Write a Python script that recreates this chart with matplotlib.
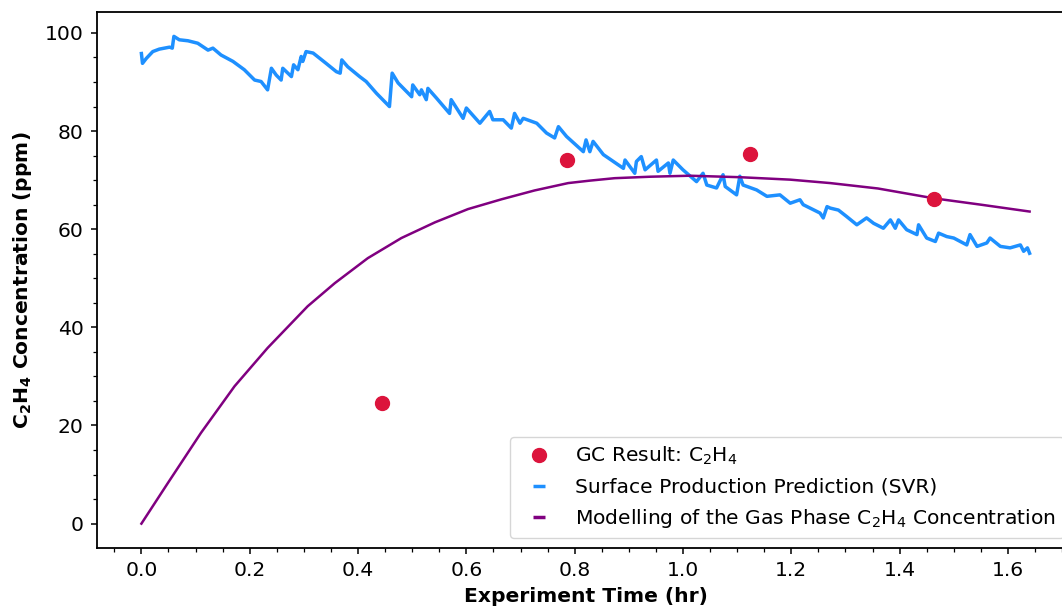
import numpy as np
import matplotlib
matplotlib.use("Agg")
import matplotlib.pyplot as plt
from matplotlib.lines import Line2D

# GC measurements
gc_time = [0.444, 0.786, 1.124, 1.464]
gc_conc = [24.6, 74.1, 75.4, 66.2]

# SVR surface production prediction
svr_time = [0.0, 0.002, 0.009, 0.021, 0.033, 0.052, 0.057, 0.060, 0.070, 0.086,
            0.104, 0.123, 0.132, 0.147, 0.169, 0.190, 0.209, 0.221, 0.233, 0.240,
            0.249, 0.258, 0.261, 0.277, 0.281, 0.289, 0.295, 0.298, 0.304, 0.317,
            0.341, 0.360, 0.367, 0.370, 0.381, 0.403, 0.415, 0.434, 0.458, 0.463,
            0.474, 0.499, 0.501, 0.514, 0.517, 0.526, 0.529, 0.545, 0.569, 0.572,
            0.594, 0.600, 0.625, 0.643, 0.649, 0.668, 0.683, 0.689, 0.699, 0.705,
            0.730, 0.748, 0.763, 0.770, 0.785, 0.816, 0.821, 0.828, 0.834, 0.853,
            0.890, 0.893, 0.911, 0.914, 0.923, 0.930, 0.951, 0.954, 0.973, 0.976,
            0.982, 1.000, 1.025, 1.037, 1.044, 1.062, 1.074, 1.078, 1.099, 1.105,
            1.111, 1.136, 1.155, 1.179, 1.198, 1.216, 1.222, 1.253, 1.259, 1.266,
            1.272, 1.287, 1.302, 1.321, 1.339, 1.352, 1.370, 1.383, 1.392, 1.398,
            1.413, 1.432, 1.435, 1.450, 1.466, 1.472, 1.487, 1.500, 1.524, 1.530,
            1.543, 1.561, 1.567, 1.586, 1.604, 1.623, 1.629, 1.636, 1.640]
svr_conc = [95.8, 93.8, 94.8, 96.2, 96.7, 97.1, 96.9, 99.3, 98.6, 98.4,
            97.9, 96.5, 96.9, 95.5, 94.2, 92.5, 90.4, 90.1, 88.4, 92.8,
            91.4, 90.4, 92.8, 91.1, 93.5, 92.5, 95.2, 94.2, 96.2, 95.9,
            93.8, 92.1, 91.8, 94.5, 93.1, 91.1, 90.1, 87.7, 85.0, 91.8,
            89.8, 87.0, 89.4, 87.4, 88.4, 86.4, 88.7, 86.7, 83.6, 86.4,
            82.6, 84.7, 81.6, 84.0, 82.3, 82.3, 80.6, 83.6, 81.6, 82.6,
            81.6, 79.6, 78.6, 80.9, 78.9, 75.8, 78.2, 75.8, 77.9, 75.2,
            72.4, 74.1, 71.4, 73.8, 74.8, 72.1, 74.1, 71.8, 73.5, 71.4,
            74.1, 72.1, 69.7, 71.4, 69.0, 68.4, 71.1, 68.7, 67.0, 70.8,
            69.0, 68.0, 66.7, 67.0, 65.3, 66.0, 65.0, 63.3, 62.3, 64.6,
            64.3, 63.9, 62.6, 60.9, 62.3, 61.2, 60.2, 61.9, 60.2, 61.9,
            59.9, 58.9, 60.9, 58.2, 57.5, 59.2, 58.5, 58.2, 56.8, 58.9,
            56.5, 57.2, 58.2, 56.5, 56.2, 56.8, 55.5, 56.2, 55.1]

# gas phase model
model_time = [0.0, 0.049, 0.110, 0.172, 0.233, 0.307, 0.357, 0.418, 0.480, 0.542,
              0.603, 0.665, 0.726, 0.788, 0.828, 0.874, 0.94, 1.013, 1.105, 1.198,
              1.272, 1.36, 1.463, 1.55, 1.64]
model_conc = [0.0, 8.3, 18.5, 28.0, 35.8, 44.3, 49.0, 54.1, 58.2, 61.4,
              64.1, 66.1, 67.9, 69.4, 69.9, 70.4, 70.7, 70.9, 70.6, 70.1,
              69.4, 68.3, 66.3, 65.0, 63.6]

fs = 14.6
plt.rcParams['font.size'] = fs

fig = plt.figure(figsize=(10.62, 6.09), dpi=100)
ax = fig.add_axes([97/1062, 61/609, 977/1062, 536/609])

ax.plot(svr_time, svr_conc, color='dodgerblue', lw=2.5)
ax.plot(model_time, model_conc, color='purple', lw=1.8)
ax.plot(gc_time, gc_conc, 'o', color='crimson', ms=10, ls='none')

ax.set_xlabel('Experiment Time (hr)', fontweight='bold', fontsize=fs, labelpad=5)
ax.set_ylabel(r'$\mathbf{C_2H_4}$ Concentration (ppm)', fontweight='bold', fontsize=fs, labelpad=8)
ax.set_xticks(np.arange(0, 1.61, 0.2))
ax.set_yticks(np.arange(0, 101, 20))
ax.xaxis.set_minor_locator(matplotlib.ticker.MultipleLocator(0.05))
ax.yaxis.set_minor_locator(matplotlib.ticker.MultipleLocator(5))
ax.tick_params(which='major', length=4.5, width=1.1, labelsize=fs, pad=5)
ax.tick_params(which='minor', length=2.7, width=0.9)
for s in ax.spines.values():
    s.set_linewidth(1.3)

handles = [
    Line2D([], [], marker='o', color='crimson', ls='none', ms=10),
    Line2D([], [], marker='_', color='dodgerblue', ls='none', ms=9, mew=2.5),
    Line2D([], [], marker='_', color='purple', ls='none', ms=9, mew=2.5),
]
labels = [r'GC Result: C$_2$H$_4$', 'Surface Production Prediction (SVR)',
          r'Modelling of the Gas Phase C$_2$H$_4$ Concentration']
ax.legend(handles, labels, loc='lower right', fontsize=fs)

fig.savefig('out.png', dpi=100)
